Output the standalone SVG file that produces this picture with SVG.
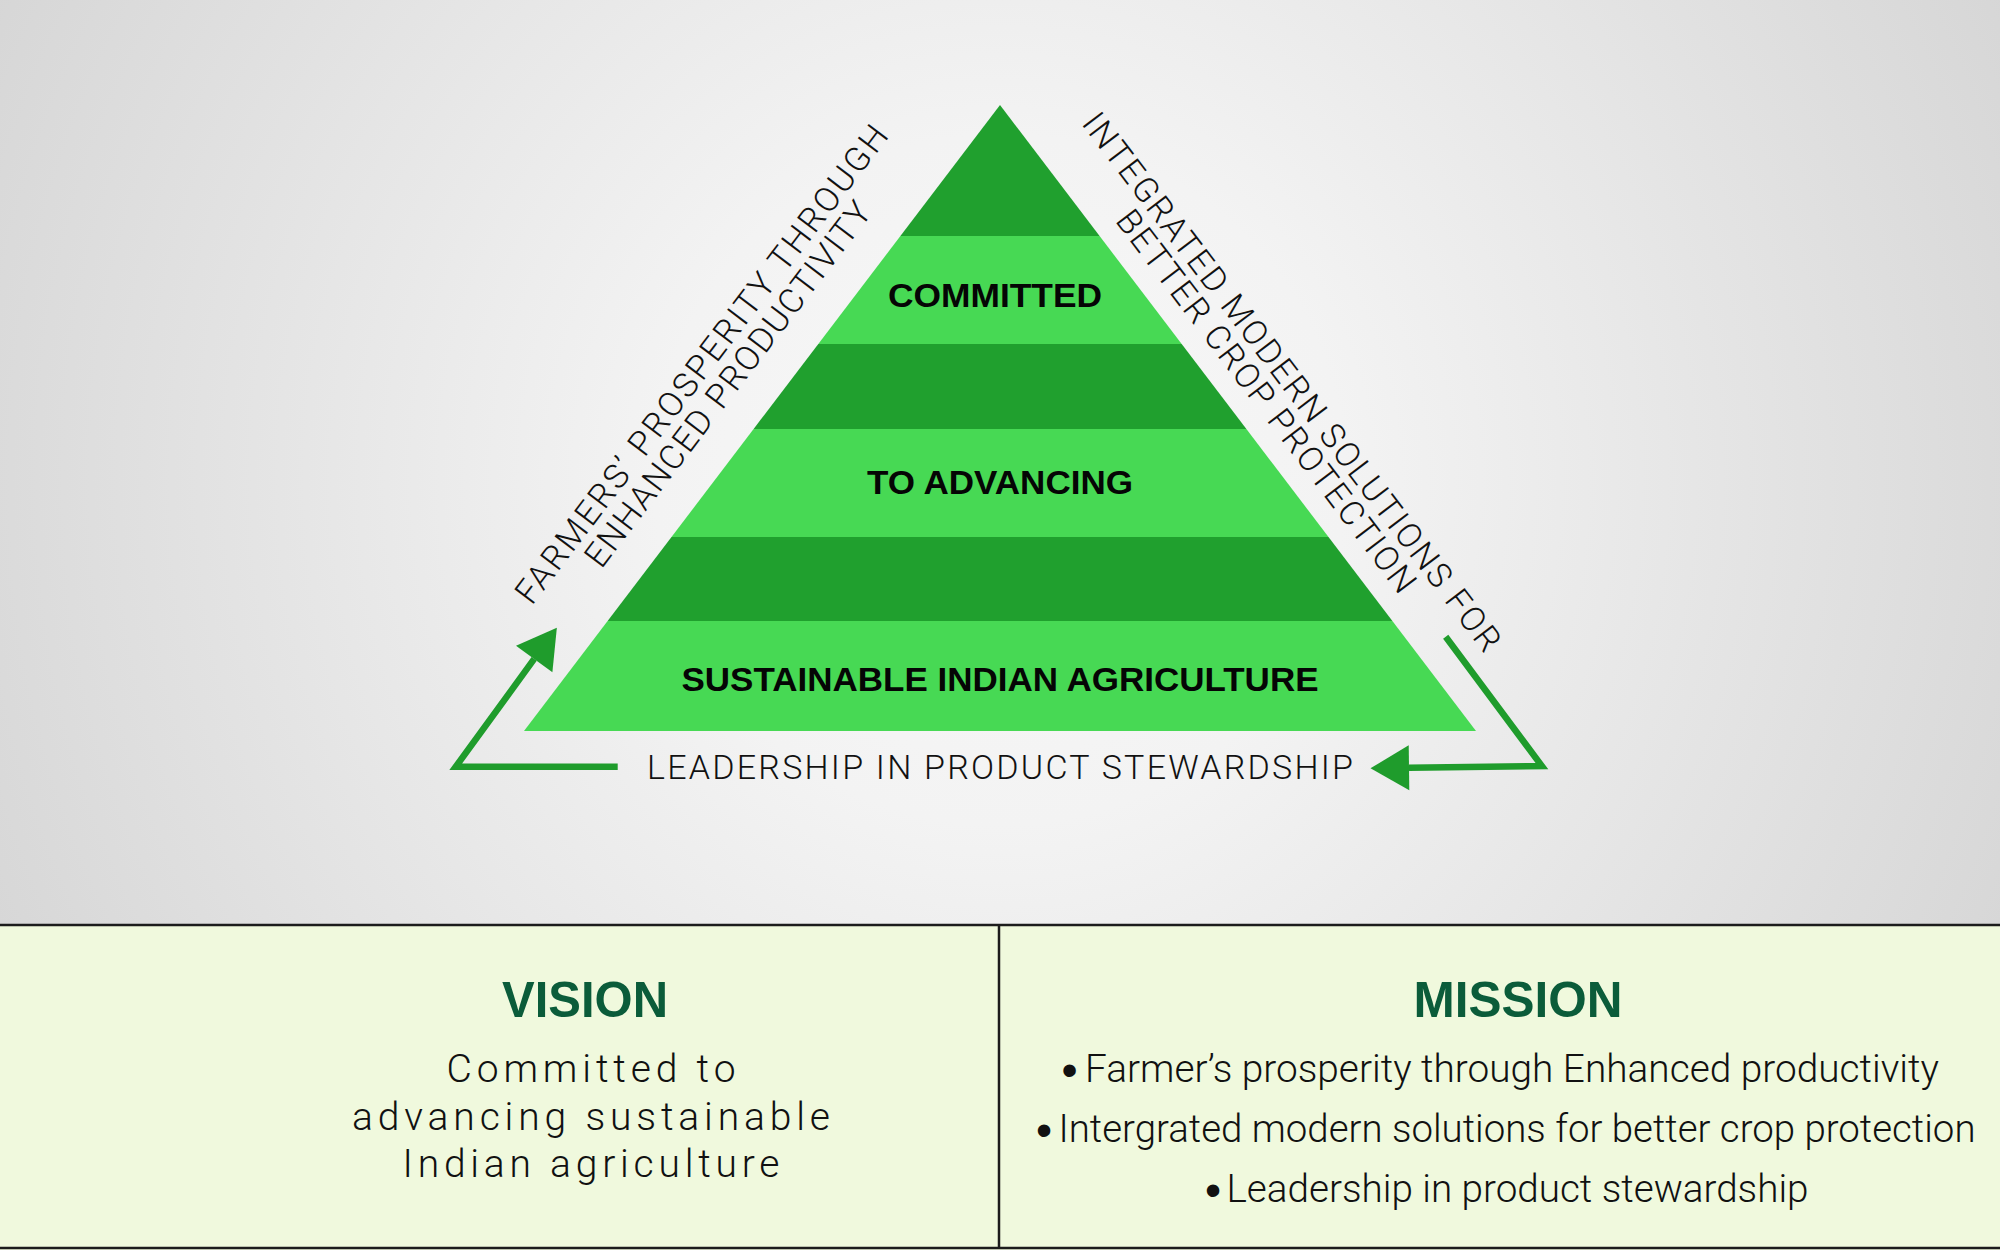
<svg xmlns="http://www.w3.org/2000/svg" width="2000" height="1250" viewBox="0 0 2000 1250">
  <defs>
    <radialGradient id="bg" gradientUnits="userSpaceOnUse" cx="1000" cy="480" r="1150">
      <stop offset="0" stop-color="#f8f8f8"/>
      <stop offset="0.3" stop-color="#f3f3f3"/>
      <stop offset="1" stop-color="#d5d5d5"/>
    </radialGradient>
    <marker id="head" markerUnits="userSpaceOnUse" markerWidth="40" markerHeight="46" refX="0" refY="22.5" orient="auto" viewBox="0 0 40 46" overflow="visible">
      <path d="M0,0 L38.5,22.5 L0,45 Z" fill="#1f9c2c"/>
    </marker>
    <style>
      .dark { fill: #20a02e; }
      .light { fill: #47d954; }
      .band-label { font-family: "Liberation Sans", Arial, sans-serif; font-weight: 700; font-size: 33px; fill: #050505; text-anchor: middle; }
      .side { font-family: Roboto, "Liberation Sans", sans-serif; font-weight: 300; font-size: 34px; fill: #111; text-anchor: middle; }
      .title { font-family: "Liberation Sans", Arial, sans-serif; font-weight: 700; font-size: 50px; fill: #0b5c3a; text-anchor: middle; }
      .body { font-family: Roboto, "Liberation Sans", sans-serif; font-weight: 300; font-size: 39px; fill: #111; text-anchor: middle; }
      .item { font-family: Roboto, "Liberation Sans", sans-serif; font-weight: 300; font-size: 38px; fill: #111; }
      .bullet { font-family: "Liberation Sans", Arial, sans-serif; font-size: 46px; fill: #111; text-anchor: middle; }
      .conn { fill: none; stroke: #1f9c2c; stroke-width: 6.5; stroke-linejoin: miter; }
      .rule { stroke: #1c1c1c; stroke-width: 2.5; fill: none; }
    </style>
  </defs>

  <g id="background">
    <rect x="0" y="0" width="2000" height="925" fill="url(#bg)"/>
    <rect x="0" y="925" width="2000" height="325" fill="#f0f9dd"/>
    <line class="rule" x1="0" y1="925" x2="2000" y2="925"/>
    <line class="rule" x1="0" y1="1248" x2="2000" y2="1248"/>
    <line class="rule" x1="999" y1="925" x2="999" y2="1248"/>
  </g>

  <g id="pyramid">
    <g id="band-top"><polygon class="dark" points="1000,105 1099.6,236 900.4,236"/></g>
    <g id="band-committed">
      <polygon class="light" points="900.4,236 1099.6,236 1181.7,344 818.3,344"/>
      <text class="band-label" x="995" y="307" textLength="214" lengthAdjust="spacingAndGlyphs">COMMITTED</text>
    </g>
    <g id="band-2"><polygon class="dark" points="818.3,344 1181.7,344 1246.4,429 753.6,429"/></g>
    <g id="band-advancing">
      <polygon class="light" points="753.6,429 1246.4,429 1328.5,537 671.5,537"/>
      <text class="band-label" x="1000" y="494" textLength="266" lengthAdjust="spacingAndGlyphs">TO ADVANCING</text>
    </g>
    <g id="band-3"><polygon class="dark" points="671.5,537 1328.5,537 1392.4,621 607.6,621"/></g>
    <g id="band-sustainable">
      <polygon class="light" points="607.6,621 1392.4,621 1476,731 524,731"/>
      <text class="band-label" x="1000" y="691" textLength="637" lengthAdjust="spacingAndGlyphs">SUSTAINABLE INDIAN AGRICULTURE</text>
    </g>
  </g>

  <g id="label-left">
    <text class="side" transform="translate(710.8,371.2) rotate(-52.73)" textLength="591" lengthAdjust="spacing">FARMERS’ PROSPERITY THROUGH</text>
    <text class="side" transform="translate(737.1,391.2) rotate(-52.73)" textLength="449" lengthAdjust="spacing">ENHANCED PRODUCTIVITY</text>
  </g>

  <g id="label-right">
    <text class="side" transform="translate(1282.6,388.8) rotate(52.73)" textLength="667" lengthAdjust="spacing">INTEGRATED MODERN SOLUTIONS FOR</text>
    <text class="side" transform="translate(1257.1,408.2) rotate(52.73)" textLength="471" lengthAdjust="spacing">BETTER CROP PROTECTION</text>
  </g>

  <g id="label-bottom">
    <text class="side" x="1000" y="779" textLength="706" lengthAdjust="spacing">LEADERSHIP IN PRODUCT STEWARDSHIP</text>
  </g>

  <g id="connectors">
    <polyline class="conn" points="617.7,766.8 455.7,766.8 534.2,658.9" marker-end="url(#head)"/>
    <polyline class="conn" points="1445.7,636.7 1541.9,766.1 1409,767.8" marker-end="url(#head)"/>
  </g>

  <g id="vision">
    <text class="title" x="585" y="1017" textLength="166" lengthAdjust="spacingAndGlyphs">VISION</text>
    <text class="body" x="591" y="1082" textLength="289" lengthAdjust="spacing">Committed to</text>
    <text class="body" x="591" y="1130" textLength="478" lengthAdjust="spacing">advancing sustainable</text>
    <text class="body" x="591" y="1177" textLength="377" lengthAdjust="spacing">Indian agriculture</text>
  </g>

  <g id="mission">
    <text class="title" x="1518" y="1017" textLength="209" lengthAdjust="spacingAndGlyphs">MISSION</text>
    <text class="bullet" x="1069.5" y="1086">•</text>
    <text class="item" x="1085" y="1082" textLength="854" lengthAdjust="spacingAndGlyphs">Farmer’s prosperity through Enhanced productivity</text>
    <text class="bullet" x="1044" y="1146">•</text>
    <text class="item" x="1058.5" y="1142" textLength="917" lengthAdjust="spacingAndGlyphs">Intergrated modern solutions for better crop protection</text>
    <text class="bullet" x="1213" y="1206">•</text>
    <text class="item" x="1226.5" y="1202" textLength="582" lengthAdjust="spacingAndGlyphs">Leadership in product stewardship</text>
  </g>
</svg>
